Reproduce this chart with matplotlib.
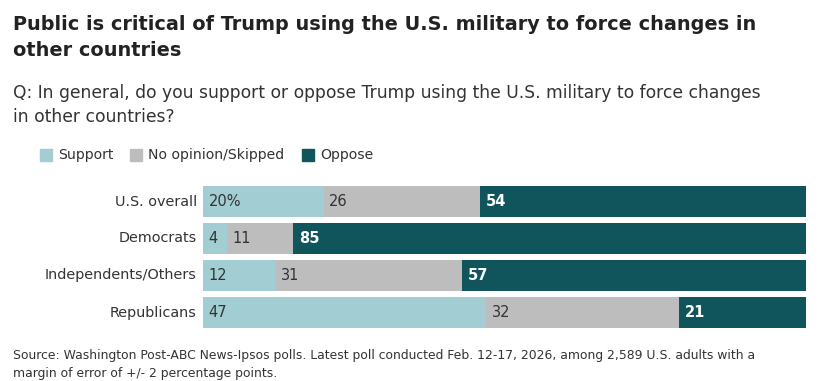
import matplotlib
matplotlib.use("Agg")
import matplotlib.pyplot as plt
from matplotlib.patches import Rectangle

plt.rcParams['font.family'] = ['DejaVu Sans']

categories = ["U.S. overall", "Democrats", "Independents/Others", "Republicans"]
support = [20, 4, 12, 47]
no_opinion = [26, 11, 31, 32]
oppose = [54, 85, 57, 21]
series_names = ["Support", "No opinion/Skipped", "Oppose"]
colors = ["#a1cdd3", "#bdbdbd", "#10545c"]
label_colors = ["#333333", "#333333", "#ffffff"]

W, H = 830, 381
fig = plt.figure(figsize=(W / 100, H / 100), dpi=100)

left, right = 203, 806
top, bottom = 183, 331
ax = fig.add_axes([left / W, 1 - bottom / H, (right - left) / W, (bottom - top) / H])
ax.set_xlim(0, 100)
ax.set_ylim(len(categories) - 0.5, -0.5)
ax.axis("off")

series = [support, no_opinion, oppose]
for i, cat in enumerate(categories):
    start = 0
    for s, vals in enumerate(series):
        v = vals[i]
        ax.barh(i, v, left=start, height=0.84, color=colors[s], edgecolor="none")
        txt = f"{v}%" if (i == 0 and s == 0) else f"{v}"
        ax.text(start + 0.9, i, txt, va="center", ha="left", fontsize=10.5,
                color=label_colors[s], fontweight="bold" if s == 2 else "normal")
        start += v
    ax.text(-1.0, i, cat, va="center", ha="right", fontsize=10.4, color="#333333")

fig.text(13 / W, 1 - 25 / H, "Public is critical of Trump using the U.S. military to force changes in",
         fontsize=13.85, fontweight="bold", color="#222222", va="center", ha="left")
fig.text(13 / W, 1 - 50 / H, "other countries",
         fontsize=13.85, fontweight="bold", color="#222222", va="center", ha="left")
fig.text(13 / W, 1 - 93 / H, "Q: In general, do you support or oppose Trump using the U.S. military to force changes",
         fontsize=12.3, color="#333333", va="center", ha="left")
fig.text(13 / W, 1 - 117 / H, "in other countries?",
         fontsize=12.3, color="#333333", va="center", ha="left")

lx = [40, 130, 302]
for name, c, x in zip(series_names, colors, lx):
    fig.patches.append(Rectangle((x / W, 1 - 161 / H), 12 / W, 12 / H, transform=fig.transFigure,
                                 color=c, figure=fig))
    fig.text((x + 18) / W, 1 - 155 / H, name, fontsize=10.1, color="#333333", va="center", ha="left")

fig.text(13 / W, 1 - 356 / H,
         "Source: Washington Post-ABC News-Ipsos polls. Latest poll conducted Feb. 12-17, 2026, among 2,589 U.S. adults with a",
         fontsize=8.95, color="#333333", va="center", ha="left")
fig.text(13 / W, 1 - 374 / H, "margin of error of +/- 2 percentage points.",
         fontsize=8.95, color="#333333", va="center", ha="left")

fig.savefig("out.png", dpi=100, facecolor="white")
